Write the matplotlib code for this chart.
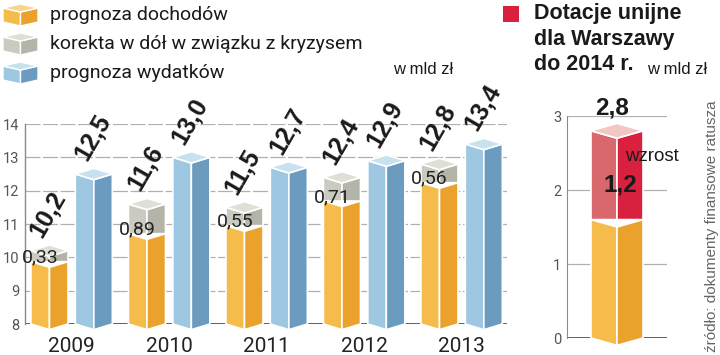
import matplotlib
matplotlib.use("Agg")
import matplotlib.pyplot as plt
from matplotlib.patches import Polygon

# dane (mld zł)
lata = ["2009", "2010", "2011", "2012", "2013"]
prognoza_dochodow = [10.2, 11.6, 11.5, 12.4, 12.8]
korekta = [0.33, 0.89, 0.55, 0.71, 0.56]
prognoza_wydatkow = [12.5, 13.0, 12.7, 12.9, 13.4]

dotacje_bazowe = 1.6
dotacje_wzrost = 1.2

ORANGE = ("#F5BC4B", "#EBA22C", "#F8D58E")
GRAY = ("#CACAC0", "#B4B4A8", "#DFDFD6")
BLUE = ("#9EC7E1", "#6B9BBE", "#C8E1EF")
RED = ("#D8686C", "#D9203F", "#F2C6C2")

W, H = 720, 355
fig = plt.figure(figsize=(W / 100, H / 100), dpi=100)
fig.patch.set_facecolor("white")


def fx(px):
    return px / W


def fy(py):
    return (H - py) / H


def prism(ax, xc, w, bottom, top, d, cols, v_bottom=True, top_face=True, z=3):
    x0, x1 = xc - w / 2, xc + w / 2
    db = d if v_bottom else 0
    left = [(x0, bottom), (xc, bottom - db), (xc, top - d), (x0, top)]
    right = [(xc, bottom - db), (x1, bottom), (x1, top), (xc, top - d)]
    for pts, c in ((left, cols[0]), (right, cols[1])):
        ax.add_patch(Polygon(pts, closed=True, facecolor=c, edgecolor="white",
                             lw=1.2, clip_on=False, zorder=z))
    if top_face:
        pts = [(x0, top), (xc, top - d), (x1, top), (xc, top + d)]
        ax.add_patch(Polygon(pts, closed=True, facecolor=cols[2], edgecolor="white",
                             lw=1.2, clip_on=False, zorder=z))


def fmt(v):
    return f"{v:.1f}".replace(".", ",")


BOLD = "Liberation Sans"
REG = "Roboto"
grid_col = "#B0B0B0"

# --- lewy wykres ---
ax = fig.add_axes([fx(25), fy(324), fx(482), 200 / H])
n = len(lata)
xo = list(range(n))
xb = [i + 0.455 for i in xo]
ax.set_xlim(-0.251, -0.251 + 482 / 97.5)
ax.set_ylim(8, 14)
for s in ("top", "right", "bottom"):
    ax.spines[s].set_visible(False)
ax.spines["left"].set_color("#8A8A8A")
ax.spines["left"].set_linewidth(1)
ax.set_yticks(range(8, 15))
ax.yaxis.grid(True, color=grid_col, lw=0.9, linestyle=(0, (12, 2)))
ax.set_axisbelow(True)
ax.axhline(8, color="#333333", lw=1.8, zorder=2)
ax.tick_params(axis="y", length=0, pad=4, labelsize=10.5, labelcolor="#555555")
for t in ax.get_yticklabels():
    t.set_fontfamily(REG)
ax.set_xticks([i + 0.2275 for i in xo], lata)
ax.tick_params(axis="x", length=0, pad=9, labelsize=15, labelcolor="#222222")
for t in ax.get_xticklabels():
    t.set_fontfamily(REG)

bw = 0.38
d = 0.17
for i in range(n):
    baza = prognoza_dochodow[i] - korekta[i]
    prism(ax, xo[i], bw, 8, baza, d, ORANGE, top_face=False)
    prism(ax, xo[i], bw, baza, prognoza_dochodow[i], d, GRAY, v_bottom=False)
    prism(ax, xb[i], bw, 8, prognoza_wydatkow[i], d, BLUE)
    ax.text(xo[i] - 0.1, baza + 0.12, f"{korekta[i]:.2f}".replace(".", ","),
            ha="center", va="center", fontsize=14, color="#222222",
            family=REG, zorder=5)
    for xc, v in ((xo[i], prognoza_dochodow[i]), (xb[i], prognoza_wydatkow[i])):
        ax.text(xc - 0.03, v + 0.28, fmt(v), rotation=60, rotation_mode="anchor",
                ha="left", va="bottom", fontsize=18, fontweight="bold",
                family=BOLD, color="#1A1A1A", zorder=5, clip_on=False)

# --- prawy wykres ---
ax2 = fig.add_axes([fx(567), fy(338), fx(100), 222 / H])
ax2.set_xlim(0, 1)
ax2.set_ylim(0, 3)
for s in ("top", "right", "bottom"):
    ax2.spines[s].set_visible(False)
ax2.spines["left"].set_color("#8A8A8A")
ax2.set_yticks([0, 1, 2, 3])
ax2.set_xticks([])
ax2.yaxis.grid(True, color=grid_col, lw=0.9)
ax2.set_axisbelow(True)
ax2.axhline(0, color="#333333", lw=1.8, zorder=2)
ax2.tick_params(axis="y", length=0, pad=4, labelsize=10.5, labelcolor="#555555")
for t in ax2.get_yticklabels():
    t.set_fontfamily(REG)

suma = dotacje_bazowe + dotacje_wzrost
prism(ax2, 0.5, 0.52, 0, dotacje_bazowe, 0.1, ORANGE, top_face=False)
prism(ax2, 0.5, 0.52, dotacje_bazowe, suma, 0.1, RED, v_bottom=False)
ax2.text(0.45, suma + 0.31, fmt(suma), ha="center", va="center", fontsize=17.5,
         fontweight="bold", family=BOLD, color="#1A1A1A", clip_on=False)
ax2.text(0.58, 2.45, "wzrost", ha="left", va="center", fontsize=13.5,
         family=BOLD, color="#1A1A1A", zorder=5, clip_on=False)
ax2.text(0.53, 2.07, fmt(dotacje_wzrost), ha="center", va="center", fontsize=17.5,
         fontweight="bold", family=BOLD, color="#1A1A1A", zorder=5)

# --- legenda, tytuły, źródło ---
ov = fig.add_axes([0, 0, 1, 1])
ov.set_xlim(0, W)
ov.set_ylim(H, 0)
ov.axis("off")


def cube(x0, y0, w, h, cols):
    xm = x0 + w / 2
    dd = 4
    ov.add_patch(Polygon([(x0, y0 + dd), (xm, y0 + 2 * dd), (xm, y0 + h), (x0, y0 + h - dd)],
                         facecolor=cols[0], edgecolor="white", lw=1))
    ov.add_patch(Polygon([(xm, y0 + 2 * dd), (x0 + w, y0 + dd), (x0 + w, y0 + h - dd), (xm, y0 + h)],
                         facecolor=cols[1], edgecolor="white", lw=1))
    ov.add_patch(Polygon([(x0, y0 + dd), (xm, y0), (x0 + w, y0 + dd), (xm, y0 + 2 * dd)],
                         facecolor=cols[2], edgecolor="white", lw=1))


legenda = [("prognoza dochodów", ORANGE), ("korekta w dół w związku z kryzysem", GRAY),
           ("prognoza wydatków", BLUE)]
for k, (txt, cols) in enumerate(legenda):
    yc = 15 + 29 * k
    cube(3, yc - 11, 35, 22, cols)
    ov.text(50, yc, txt, ha="left", va="center", fontsize=14, family=REG, color="#1A1A1A")

ov.text(393, 70, "w mld zł", ha="left", va="center", fontsize=12, family=BOLD, color="#1A1A1A")

ov.add_patch(plt.Rectangle((503, 6), 16, 16, facecolor="#D9203F", edgecolor="none"))
for k, line in enumerate(["Dotacje unijne", "dla Warszawy", "do 2014 r."]):
    ov.text(534, 14 + 25 * k, line, ha="left", va="center", fontsize=15.5,
            fontweight="bold", family=BOLD, color="#1A1A1A")
ov.text(647, 70, "w mld zł", ha="left", va="center", fontsize=12, family=BOLD, color="#1A1A1A")

ov.text(712, 352, "źródło: dokumenty finansowe ratusza", rotation=90, ha="center",
        va="bottom", fontsize=11, family=BOLD, color="#666666")

fig.savefig("out.png", dpi=100, facecolor="white")
